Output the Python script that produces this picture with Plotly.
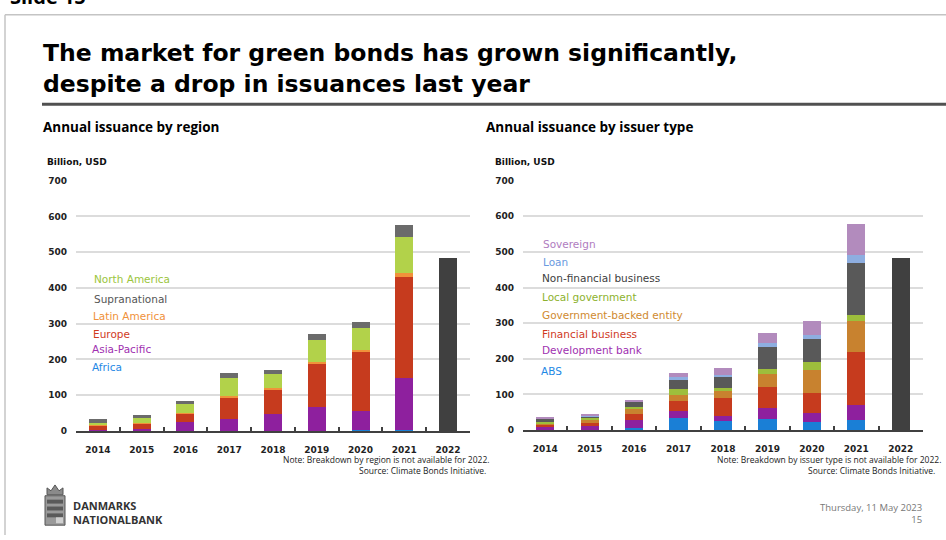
import plotly.graph_objects as go

W, H = 946, 540

# ---- data (billion USD) ----
years = ["2014", "2015", "2016", "2017", "2018", "2019", "2020", "2021", "2022"]
split_years = years[:8]

africa = [0.3, 0.3, 0.5, 0.8, 0.6, 0.8, 1.5, 2.0]
asia_pacific = [1.5, 4.5, 25.5, 33, 48, 65, 55, 145]
europe = [15, 16.5, 23.5, 62, 68, 125, 163, 284]
latin_america = [1.5, 2, 2, 2.5, 2.5, 2.5, 8, 11]
north_america = [5, 12, 23, 51, 39, 61, 61, 101]
supranational = [10, 8.5, 8, 12, 13, 16, 15, 32]

abs_ = [0.5, 1, 6.5, 34.5, 25, 32, 23, 27.5]
development_bank = [11.5, 11, 20.5, 19.5, 15.5, 29, 26, 42.5]
financial_business = [5, 11, 19, 27, 50.5, 59.5, 55, 150]
government_backed = [3, 4, 12, 17, 19, 36, 65, 85]
local_government = [3, 6, 7.5, 16, 9, 13.5, 21, 17]
non_financial = [10, 7, 14, 29, 30, 63, 66, 148]
loan = [1, 2, 2.5, 5.5, 6.5, 12.5, 11, 21]
sovereign = [1.5, 3, 2, 12, 17.5, 26.5, 39, 87]

total_2022 = 484

y_ticks = [0, 100, 200, 300, 400, 500, 600, 700]


def px(x):
    return x / W


def py(y):
    return 1 - y / H


region_series = [
    ("Africa", africa, "#1a7fd6", "#1e88e5"),
    ("Asia-Pacific", asia_pacific, "#8e209e", "#a030b0"),
    ("Europe", europe, "#c63b1e", "#d03a1e"),
    ("Latin America", latin_america, "#f0923a", "#f0913a"),
    ("North America", north_america, "#b2d24a", "#9bc53d"),
    ("Supranational", supranational, "#6b6b6b", "#555555"),
]

issuer_series = [
    ("ABS", abs_, "#1a7fd6", "#1e88e5"),
    ("Development bank", development_bank, "#8e209e", "#a030b0"),
    ("Financial business", financial_business, "#c63b1e", "#d03a1e"),
    ("Government-backed entity", government_backed, "#c8822f", "#d08a30"),
    ("Local government", local_government, "#9dbe3c", "#8db22e"),
    ("Non-financial business", non_financial, "#595959", "#404040"),
    ("Loan", loan, "#8eaee0", "#6a9ae0"),
    ("Sovereign", sovereign, "#b28bbd", "#b07cc0"),
]

fig = go.Figure()

for name, vals, col, _ in region_series:
    fig.add_trace(go.Bar(x=split_years, y=vals, name=name, marker_color=col,
                         marker_line_width=0, xaxis="x", yaxis="y"))
fig.add_trace(go.Bar(x=["2022"], y=[total_2022], name="Total", marker_color="#404040",
                     marker_line_width=0, xaxis="x", yaxis="y"))

for name, vals, col, _ in issuer_series:
    fig.add_trace(go.Bar(x=split_years, y=vals, name=name, marker_color=col,
                         marker_line_width=0, xaxis="x2", yaxis="y2"))
fig.add_trace(go.Bar(x=["2022"], y=[total_2022], name="Total", marker_color="#404040",
                     marker_line_width=0, xaxis="x2", yaxis="y2"))

tick_font = dict(family="DejaVu Sans", size=9, color="#222222", weight="bold")

xaxis_common = dict(
    type="category", categoryorder="array", categoryarray=years,
    showline=True, linecolor="#404040", linewidth=2,
    ticks="inside", ticklen=4, tickwidth=1.5, tickcolor="#404040",
    tickson="boundaries", showgrid=False, tickfont=tick_font,
    ticklabelstandoff=9, fixedrange=True,
)
yaxis_common = dict(
    range=[0, 700], tickvals=y_ticks, showgrid=True, gridcolor="#dcdcdc",
    gridwidth=2, zeroline=False, showline=False, ticks="",
    tickfont=tick_font, ticklabelstandoff=8, fixedrange=True,
)

fig.update_layout(
    width=W, height=H,
    margin=dict(l=0, r=0, t=0, b=0),
    paper_bgcolor="white", plot_bgcolor="white",
    barmode="stack", bargap=0.59, showlegend=False,
    xaxis=dict(domain=[px(76), px(470)], anchor="y", **xaxis_common),
    yaxis=dict(domain=[py(434), py(179)], anchor="x", **yaxis_common),
    xaxis2=dict(domain=[px(523), px(923)], anchor="y2", **xaxis_common),
    yaxis2=dict(domain=[py(433), py(179)], anchor="x2", **yaxis_common),
)

ann = []


def text(x, y, s, size, color="#000000", family="Open Sans", xanchor="left",
         yanchor="middle", align="left"):
    ann.append(dict(x=px(x), y=py(y), xref="paper", yref="paper", text=s,
                    showarrow=False, xanchor=xanchor, yanchor=yanchor, align=align,
                    font=dict(family=family, size=size, color=color)))


# slide header (runs off the top edge of the slide frame)
text(8, -9, "<b>Slide 15</b>", 20, "#000000", "Open Sans")
text(41, 65, "<b>The market for green bonds has grown significantly,<br>"
             "despite a drop in issuances last year</b>", 23.5, "#000000", "DejaVu Sans")

text(41, 124, "<b>Annual issuance by region</b>", 13.5)
text(484, 124, "<b>Annual issuance by issuer type</b>", 13.5)

text(45, 160, "<b>Billion, USD</b>", 9, "#111111", "DejaVu Sans")
text(493, 160, "<b>Billion, USD</b>", 9, "#111111", "DejaVu Sans")

# series labels
region_label_pos = {
    "North America": (92, 279), "Supranational": (92, 300),
    "Latin America": (91, 317), "Europe": (91, 335),
    "Asia-Pacific": (90, 350), "Africa": (90, 369),
}
for name, _, _, tcol in region_series:
    x, y = region_label_pos[name]
    text(x, y, name, 10.5, tcol, "DejaVu Sans")

issuer_label_pos = {
    "Sovereign": (541, 244), "Loan": (541, 262),
    "Non-financial business": (540, 278), "Local government": (540, 298),
    "Government-backed entity": (540, 316), "Financial business": (540, 335),
    "Development bank": (540, 352), "ABS": (539, 373),
}
for name, _, _, tcol in issuer_series:
    x, y = issuer_label_pos[name]
    text(x, y, name, 10.5, tcol, "DejaVu Sans")

# notes
text(492, 463, "Note: Breakdown by region is not available for 2022.", 8.5, "#222222",
     xanchor="right")
text(488, 474, "Source: Climate Bonds Initiative.", 8.5, "#222222", xanchor="right")
text(943, 463, "Note: Breakdown by issuer type is not available for 2022.", 8.5, "#222222",
     xanchor="right")
text(937, 474, "Source: Climate Bonds Initiative.", 8.5, "#222222", xanchor="right")

# footer
text(71, 517, "<b>DANMARKS<br>NATIONALBANK</b>", 11, "#333333")
text(924, 518, "Thursday, 11 May 2023<br>15", 9.5, "#777777", xanchor="right",
     align="right")

fig.update_layout(annotations=ann)

shapes = [
    # slide frame
    dict(type="line", xref="paper", yref="paper", x0=px(5), x1=1, y0=py(10), y1=py(10),
         line=dict(color="#c4c4c4", width=1.5)),
    dict(type="line", xref="paper", yref="paper", x0=px(5), x1=px(5), y0=py(10), y1=0,
         line=dict(color="#c4c4c4", width=1.5)),
    # title rule
    dict(type="line", xref="paper", yref="paper", x0=px(42), x1=1, y0=py(101), y1=py(101),
         line=dict(color="#505050", width=3)),
    # crest: crown and shield
    dict(type="path", xref="paper", yref="paper",
         path=f"M {px(47)},{py(499)} L {px(47)},{py(492)} L {px(51)},{py(495)} "
              f"L {px(55)},{py(489)} L {px(59)},{py(495)} L {px(63)},{py(492)} "
              f"L {px(63)},{py(499)} Z",
         fillcolor="#8a8a8a", line=dict(color="#555555", width=1)),
    dict(type="rect", xref="paper", yref="paper", x0=px(45), x1=px(65),
         y0=py(530), y1=py(500), fillcolor="#9a9a9a", line=dict(color="#555555", width=1)),
]
for i in range(3):
    y = 504 + i * 7
    shapes.append(dict(type="rect", xref="paper", yref="paper", x0=px(47), x1=px(63),
                       y0=py(y + 4), y1=py(y), fillcolor="#5a5a5a", line_width=0))
shapes.append(dict(type="rect", xref="paper", yref="paper", x0=px(56), x1=px(63),
                   y0=py(528), y1=py(522), fillcolor="#d0d0d0", line_width=0))
fig.update_layout(shapes=shapes)

fig.write_html("out.html")
